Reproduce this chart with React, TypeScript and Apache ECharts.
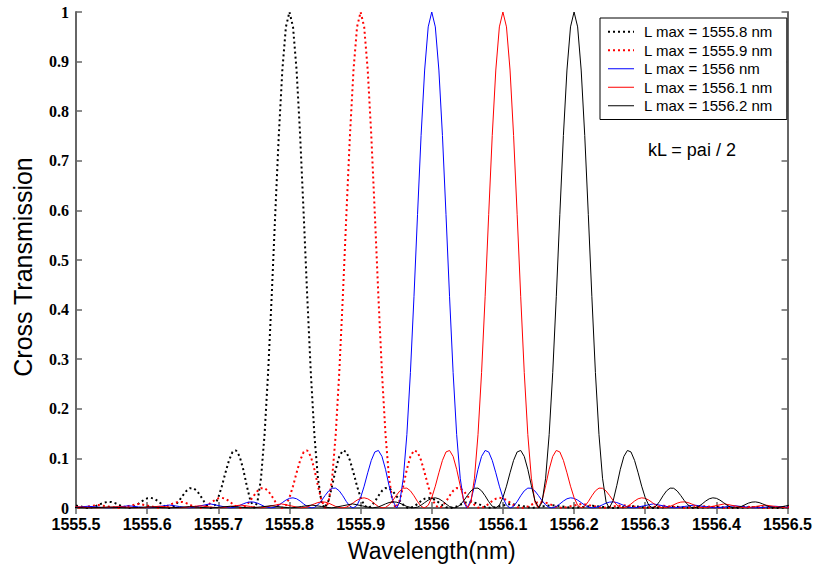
import React, { useEffect, useRef } from "react";
import * as echarts from "echarts";

// Peak (centre) wavelength of each transmission curve, nm
const peakWavelengths = [1555.8, 1555.9, 1556.0, 1556.1, 1556.2];
const seriesNames = [
  "L max = 1555.8 nm",
  "L max = 1555.9 nm",
  "L max = 1556 nm",
  "L max = 1556.1 nm",
  "L max = 1556.2 nm",
];

// Shape of one curve: offset from the peak (nm) -> cross transmission
const lobeOffsets = [
  0, 0.005, 0.01, 0.015, 0.02, 0.025, 0.03, 0.035, 0.04, 0.045, 0.0494,
  0.055, 0.06, 0.065, 0.07, 0.075, 0.08, 0.085, 0.09, 0.095, 0.1, 0.105, 0.1104,
  0.115, 0.12, 0.125, 0.13, 0.135, 0.14, 0.145, 0.15, 0.155, 0.16, 0.165, 0.1686,
  0.175, 0.18, 0.185, 0.19, 0.195, 0.2, 0.205, 0.21, 0.215, 0.22, 0.2262,
  0.235, 0.24, 0.245, 0.25, 0.255, 0.26, 0.265, 0.27, 0.275, 0.2836,
  0.2975, 0.3113, 0.326, 0.3408,
  0.3547, 0.3686, 0.3833, 0.398,
  0.412, 0.4259, 0.4405, 0.4551,
  0.4691, 0.4831, 0.4977, 0.5122,
  0.5262, 0.5402, 0.5548, 0.5693,
  0.5834, 0.5974, 0.6119, 0.6264,
  0.6405, 0.6546, 0.669, 0.6834,
  0.6975, 0.7115, 0.726, 0.7405,
];
const lobeValues = [
  1, 0.97, 0.883, 0.751, 0.592, 0.426, 0.273, 0.148, 0.06, 0.012, 0,
  0.015, 0.045, 0.078, 0.104, 0.116, 0.113, 0.096, 0.071, 0.044, 0.021, 0.0055, 0,
  0.0035, 0.0129, 0.0246, 0.0346, 0.0401, 0.0398, 0.0342, 0.025, 0.0148, 0.0063, 0.0012, 0,
  0.003, 0.0082, 0.014, 0.0186, 0.0205, 0.0195, 0.0159, 0.0109, 0.0057, 0.0018, 0,
  0.0031, 0.0065, 0.0098, 0.0119, 0.0123, 0.011, 0.0083, 0.0051, 0.0022, 0,
  0.0042, 0.0083, 0.0042, 0,
  0.003, 0.0059, 0.003, 0,
  0.0022, 0.0045, 0.0022, 0,
  0.0017, 0.0035, 0.0017, 0,
  0.0014, 0.0028, 0.0014, 0,
  0.0011, 0.0023, 0.0011, 0,
  0.001, 0.0019, 0.001, 0,
  0.0008, 0.0016, 0.0008, 0,
];

const xMin = 1555.5;
const xMax = 1556.5;
const xStep = 0.1;
const yMin = 0;
const yMax = 1;
const yStep = 0.1;

const xTitle = "Wavelength(nm)";
const yTitle = "Cross Transmission";
const noteText = "kL = pai / 2";

const seriesColors = ["#000000", "#ff0000", "#0000ff", "#ff0000", "#000000"];
const seriesDotted = [true, true, false, false, false];

const frameColor = "#666666";

function buildCurve(center: number): [number, number][] {
  const pts: [number, number][] = [];
  for (let i = lobeOffsets.length - 1; i >= 1; i--) {
    pts.push([+(center - lobeOffsets[i]).toFixed(4), lobeValues[i]]);
  }
  for (let i = 0; i < lobeOffsets.length; i++) {
    pts.push([+(center + lobeOffsets[i]).toFixed(4), lobeValues[i]]);
  }
  return pts;
}

const fmt = (v: number) => String(Math.round(v * 10) / 10);

export default function App() {
  const ref = useRef<HTMLDivElement>(null);

  useEffect(() => {
    if (!ref.current) return;
    const chart = echarts.init(ref.current, null, { renderer: "svg" });

    const axisCommon = {
      axisLine: { show: true, lineStyle: { color: frameColor, width: 2 } },
      axisTick: { show: true, inside: true, length: 6, lineStyle: { color: frameColor, width: 1.5 } },
      splitLine: { show: false },
    };

    const option: any = {
      animation: false,
      backgroundColor: "#ffffff",
      grid: { left: 76, right: 23, top: 12, bottom: 57, containLabel: false },
      xAxis: [
        {
          type: "value",
          min: xMin,
          max: xMax,
          interval: xStep,
          position: "bottom",
          name: xTitle,
          nameLocation: "middle",
          nameGap: 31,
          nameTextStyle: { fontFamily: "'Liberation Sans', Arial, sans-serif", fontSize: 23, color: "#000" },
          ...axisCommon,
          axisLabel: {
            show: true,
            margin: 8,
            formatter: fmt,
            fontFamily: "'Liberation Sans Narrow', 'Arial Narrow', 'Liberation Sans', Arial, sans-serif",
            fontWeight: "bold",
            fontSize: 16,
            color: "#000",
          },
        },
        {
          type: "value",
          min: xMin,
          max: xMax,
          interval: xStep,
          position: "top",
          ...axisCommon,
          axisLabel: { show: false },
        },
      ],
      yAxis: [
        {
          type: "value",
          min: yMin,
          max: yMax,
          interval: yStep,
          position: "left",
          ...axisCommon,
          axisLabel: {
            show: true,
            margin: 7,
            formatter: fmt,
            fontFamily: "'Liberation Serif', 'Times New Roman', serif",
            fontWeight: "bold",
            fontSize: 16,
            color: "#000",
          },
        },
        {
          type: "value",
          min: yMin,
          max: yMax,
          interval: yStep,
          position: "right",
          ...axisCommon,
          axisLabel: { show: false },
        },
      ],
      legend: {
        orient: "vertical",
        left: 600,
        top: 18,
        padding: [5, 14, 5, 7],
        itemGap: 1,
        itemWidth: 26,
        itemHeight: 10,
        borderColor: "#000",
        borderWidth: 1,
        borderRadius: 0,
        backgroundColor: "#ffffff",
        itemStyle: { opacity: 0 },
        lineStyle: { width: "inherit" },
        textStyle: {
          fontFamily: "'Liberation Sans', Arial, sans-serif",
          fontSize: 15,
          color: "#000",
          lineHeight: 17.5,
          padding: [0, 0, 0, 5],
        },
        data: seriesNames,
      },
      graphic: [
        {
          type: "text",
          x: 648,
          y: 150,
          style: {
            text: noteText,
            fontFamily: "'Liberation Sans', Arial, sans-serif",
            fontSize: 18,
            fill: "#000",
            verticalAlign: "middle",
          },
        },
        {
          type: "text",
          x: 23,
          y: 267,
          rotation: Math.PI / 2,
          style: {
            text: yTitle,
            fontFamily: "'Liberation Sans', Arial, sans-serif",
            fontSize: 25,
            fill: "#000",
            align: "center",
            verticalAlign: "middle",
          },
        },
      ],
      series: peakWavelengths.map((c, i) => ({
        name: seriesNames[i],
        type: "line",
        xAxisIndex: 0,
        yAxisIndex: 0,
        data: buildCurve(c),
        symbol: "none",
        showSymbol: false,
        smooth: false,
        clip: true,
        lineStyle: {
          color: seriesColors[i],
          width: seriesDotted[i] ? 2 : 1,
          type: seriesDotted[i] ? [2, 3] : "solid",
        },
        itemStyle: { color: seriesColors[i] },
        emphasis: { disabled: true },
      })),
    };

    chart.setOption(option);
    return () => chart.dispose();
  }, []);

  return <div ref={ref} style={{ width: 815, height: 567, position: "absolute", left: 0, top: 0 }} />;
}
